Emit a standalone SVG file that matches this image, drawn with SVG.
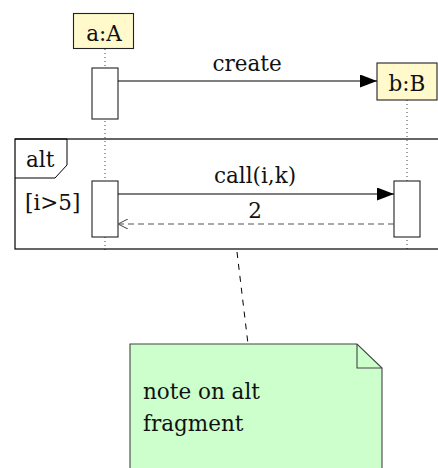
<svg xmlns="http://www.w3.org/2000/svg" width="438" height="468" viewBox="0 0 438 468">
<style>
text{font-family:"DejaVu Serif","Liberation Serif",serif;font-size:21.5px;fill:#111}
.obj{fill:#fff9cc;stroke:#222;stroke-width:1.1}
.act{fill:#fff;stroke:#222;stroke-width:1.1}
.life{stroke:#444;stroke-width:1;stroke-dasharray:1 3;fill:none}
.msg{stroke:#000;stroke-width:1.1;fill:none}
.ret{stroke:#555;stroke-width:1.1;stroke-dasharray:6 4;fill:none}
</style>
<defs>
<marker id="fill" markerWidth="17" markerHeight="13" refX="17" refY="6.5" orient="auto" markerUnits="userSpaceOnUse"><path d="M0,0 L17,6.5 L0,13 Z" fill="#000"/></marker>
<marker id="open" markerWidth="10" markerHeight="10" refX="10" refY="5" orient="auto" markerUnits="userSpaceOnUse"><path d="M0,0 L10,5 L0,10" fill="none" stroke="#555" stroke-width="1.1"/></marker>
</defs>
<g id="lifelines">
<line class="life" x1="105" y1="49" x2="105" y2="251"/>
<line class="life" x1="407" y1="100" x2="407" y2="251"/>
</g>
<g id="fragment-alt">
<rect x="15" y="139" width="440" height="110" fill="none" stroke="#000" stroke-width="1.2"/>
<path d="M15,139 L67,139 L67,165 L55,178 L15,178" fill="none" stroke="#000" stroke-width="1"/>
<text x="26" y="167">alt</text>
<text x="25" y="210">[i&gt;5]</text>
</g>
<g id="a">
<rect class="obj" x="73.5" y="13.5" width="60" height="35"/>
<text x="104" y="41" text-anchor="middle">a:A</text>
</g>
<g id="b">
<rect class="obj" x="377" y="63" width="60" height="37"/>
<text x="407" y="91" text-anchor="middle">b:B</text>
</g>
<g id="act-a1"><rect class="act" x="92" y="68" width="26" height="51"/></g>
<g id="act-a2"><rect class="act" x="92" y="181" width="26" height="56"/></g>
<g id="act-b1"><rect class="act" x="394" y="181" width="26" height="56"/></g>
<g id="connectors">
<line class="msg" x1="118" y1="81" x2="377" y2="81" marker-end="url(#fill)"/>
<text x="247" y="71" text-anchor="middle">create</text>
<line class="msg" x1="118" y1="194" x2="394" y2="194" marker-end="url(#fill)"/>
<text x="255" y="183" text-anchor="middle">call(i,k)</text>
<line class="ret" x1="394" y1="224" x2="118" y2="224" marker-end="url(#open)"/>
<text x="255" y="218" text-anchor="middle">2</text>
<line x1="237" y1="252" x2="248" y2="344" stroke="#000" stroke-width="1" stroke-dasharray="6 6"/>
</g>
<g id="note">
<path d="M130,344 L357,344 L382,368 L382,475 L130,475 Z" fill="#ccffcc" stroke="#444" stroke-width="1.1"/>
<path d="M357,344 L357,368 L382,368" fill="none" stroke="#444" stroke-width="1.1"/>
<text x="143" y="399">note on alt</text>
<text x="143" y="431">fragment</text>
</g>
</svg>
